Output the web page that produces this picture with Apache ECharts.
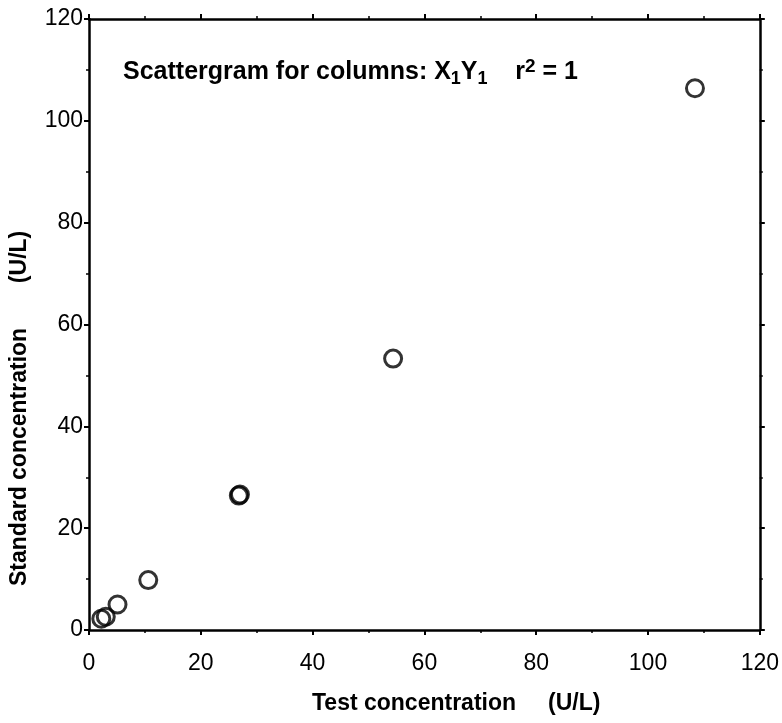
<!DOCTYPE html>
<html>
<head>
<meta charset="utf-8">
<script src="https://cdn.jsdelivr.net/npm/echarts@6/dist/echarts.min.js"></script>
<style>
html,body{margin:0;padding:0;background:#fff;}
#main{width:782px;height:723px;}
</style>
</head>
<body>
<div id="main"></div>
<script>
// test vs standard concentration (U/L)
var testConc = [2.2, 3.0, 5.1, 10.6, 26.8, 27.0, 54.4, 108.4];
var stdConc  = [2.2, 2.6, 5.0, 9.8, 26.4, 26.6, 53.3, 106.4];
var xTicks = [0, 20, 40, 60, 80, 100, 120];
var yTicks = [0, 20, 40, 60, 80, 100, 120];

var pts = [];
for (var i = 0; i < testConc.length; i++) {
	pts.push([testConc[i], stdConc[i]]);
}

var numFont = "'Liberation Sans', Arial, sans-serif";
var boldFont = "'Liberation Sans', Arial, sans-serif";

function axisBase(pos, show, ticks) {
	return {
		type: 'value',
		position: pos,
		min: ticks[0],
		max: ticks[ticks.length - 1],
		interval: 20,
		axisLine: { show: true, onZero: false, lineStyle: { color: '#000', width: 2.5 } },
		axisTick: { show: true, length: 5, lineStyle: { color: '#000', width: 2 } },
		minorTick: { show: true, splitNumber: 2, length: 3, lineStyle: { color: '#000', width: 1.5 } },
		splitLine: { show: false },
		axisLabel: { show: show, color: '#000', fontFamily: numFont, fontSize: 23, margin: 8 }
	};
}

var myChart = echarts.init(document.getElementById('main'));
var xb = axisBase('bottom', true, xTicks);
xb.axisLabel.margin = 22;
var xt = axisBase('top', false, xTicks);
var yl = axisBase('left', true, yTicks);
yl.axisLabel.margin = 6;
var yr = axisBase('right', false, yTicks);

var options = {
	backgroundColor: '#fff',
	animation: false,
	grid: { left: 89, right: 21, top: 19, bottom: 93 },
	title: {
		left: 118, top: 52,
		text: '{t|Scattergram for columns: X}{s|1}{t|Y}{s|1}{t|    r}{p|2}{t| = 1}',
		textStyle: {
			rich: {
				t: { fontFamily: boldFont, fontWeight: 'bold', fontSize: 25, color: '#000' },
				s: { fontFamily: boldFont, fontWeight: 'bold', fontSize: 18, color: '#000', verticalAlign: 'bottom', padding: [10, 0, 0, 0] },
				p: { fontFamily: boldFont, fontWeight: 'bold', fontSize: 19, color: '#000', verticalAlign: 'top', padding: [0, 0, 12, 0] }
			}
		}
	},
	graphic: [
		{
			type: 'text', left: 312, top: 692,
			style: { text: 'Test concentration     (U/L)', fill: '#000', font: 'bold 23px ' + boldFont }
		},
		{
			type: 'text', x: 8, y: 586, rotation: Math.PI / 2,
			style: { text: 'Standard concentration       (U/L)', fill: '#000', font: 'bold 23px ' + boldFont, textAlign: 'left', textVerticalAlign: 'top' }
		}
	],
	xAxis: [xb, xt],
	yAxis: [yl, yr],
	series: [{
		type: 'scatter',
		xAxisIndex: 0,
		yAxisIndex: 0,
		symbol: 'circle',
		symbolSize: 17,
		itemStyle: { color: 'rgba(255,255,255,0)', borderColor: '#000', borderWidth: 3 },
		data: pts
	}]
};
myChart.setOption(options);
</script>
</body>
</html>
